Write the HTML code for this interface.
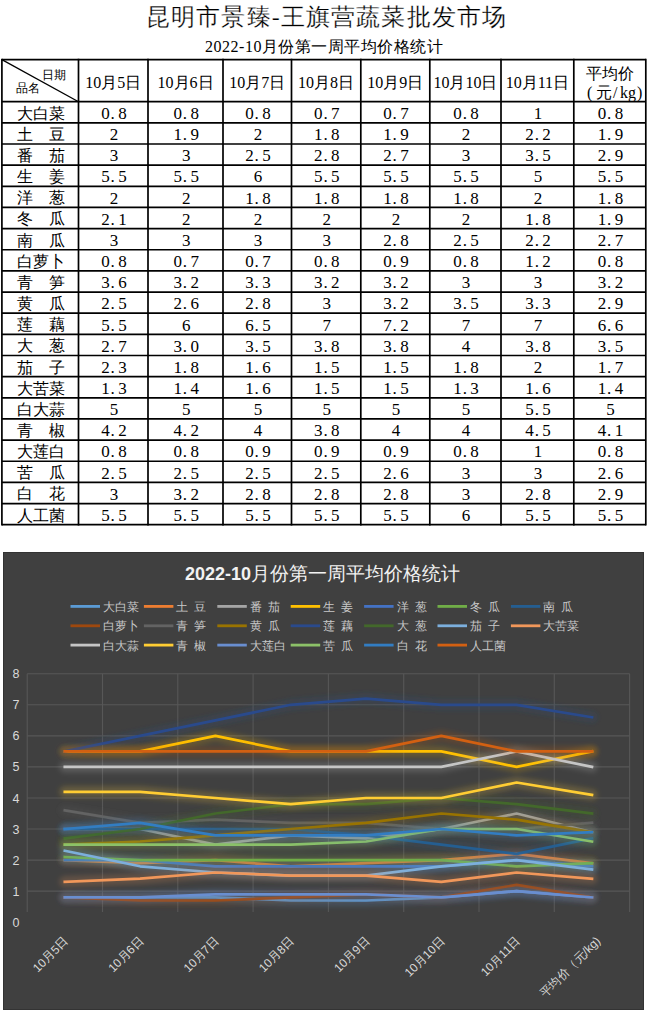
<!DOCTYPE html>
<html><head><meta charset="utf-8">
<style>
html,body{margin:0;padding:0;background:#fff;width:650px;height:1014px;overflow:hidden}
svg{display:block}
.s{font-family:"Liberation Serif",serif}
.a{font-family:"Liberation Sans",sans-serif}
</style></head><body>
<svg width="650" height="1014" viewBox="0 0 650 1014">
<defs>
<filter id="gl" filterUnits="userSpaceOnUse" x="0" y="540" width="650" height="474"><feGaussianBlur stdDeviation="2.6"/></filter>
</defs>

<text class="s" x="146" y="25" font-size="24" textLength="360" lengthAdjust="spacing" fill="#000" stroke="#fff" stroke-width="0.25">昆明市景臻-王旗营蔬菜批发市场</text>
<text class="s" x="205" y="52" font-size="16" textLength="238" lengthAdjust="spacing" fill="#000">2022-10月份第一周平均价格统计</text>
<g stroke="#000" stroke-width="1.7" fill="none">
<line x1="1.9" y1="58.75" x2="1.9" y2="525.5500000000001"/>
<line x1="78.5" y1="58.75" x2="78.5" y2="525.5500000000001"/>
<line x1="148" y1="58.75" x2="148" y2="525.5500000000001"/>
<line x1="223" y1="58.75" x2="223" y2="525.5500000000001"/>
<line x1="291.5" y1="58.75" x2="291.5" y2="525.5500000000001"/>
<line x1="360.8" y1="58.75" x2="360.8" y2="525.5500000000001"/>
<line x1="429.8" y1="58.75" x2="429.8" y2="525.5500000000001"/>
<line x1="501" y1="58.75" x2="501" y2="525.5500000000001"/>
<line x1="573.8" y1="58.75" x2="573.8" y2="525.5500000000001"/>
<line x1="645.8" y1="58.75" x2="645.8" y2="525.5500000000001"/>
<line x1="1.9" y1="59.6" x2="645.8" y2="59.6"/>
<line x1="1.9" y1="101.70" x2="645.8" y2="101.70"/>
<line x1="1.9" y1="122.85" x2="645.8" y2="122.85"/>
<line x1="1.9" y1="144.00" x2="645.8" y2="144.00"/>
<line x1="1.9" y1="165.15" x2="645.8" y2="165.15"/>
<line x1="1.9" y1="186.30" x2="645.8" y2="186.30"/>
<line x1="1.9" y1="207.45" x2="645.8" y2="207.45"/>
<line x1="1.9" y1="228.60" x2="645.8" y2="228.60"/>
<line x1="1.9" y1="249.75" x2="645.8" y2="249.75"/>
<line x1="1.9" y1="270.90" x2="645.8" y2="270.90"/>
<line x1="1.9" y1="292.05" x2="645.8" y2="292.05"/>
<line x1="1.9" y1="313.20" x2="645.8" y2="313.20"/>
<line x1="1.9" y1="334.35" x2="645.8" y2="334.35"/>
<line x1="1.9" y1="355.50" x2="645.8" y2="355.50"/>
<line x1="1.9" y1="376.65" x2="645.8" y2="376.65"/>
<line x1="1.9" y1="397.80" x2="645.8" y2="397.80"/>
<line x1="1.9" y1="418.95" x2="645.8" y2="418.95"/>
<line x1="1.9" y1="440.10" x2="645.8" y2="440.10"/>
<line x1="1.9" y1="461.25" x2="645.8" y2="461.25"/>
<line x1="1.9" y1="482.40" x2="645.8" y2="482.40"/>
<line x1="1.9" y1="503.55" x2="645.8" y2="503.55"/>
<line x1="1.9" y1="524.70" x2="645.8" y2="524.70"/>
<line x1="1.9" y1="59.6" x2="78.5" y2="101.7" stroke-width="1.3"/>
</g>
<g class="s" fill="#000">
<text x="54" y="79" font-size="12" text-anchor="middle">日期</text>
<text x="28" y="92" font-size="12" text-anchor="middle">品名</text>
<text x="113.2" y="88" font-size="16" text-anchor="middle">10月5日</text>
<text x="185.5" y="88" font-size="16" text-anchor="middle">10月6日</text>
<text x="257.2" y="88" font-size="16" text-anchor="middle">10月7日</text>
<text x="326.1" y="88" font-size="16" text-anchor="middle">10月8日</text>
<text x="395.3" y="88" font-size="16" text-anchor="middle">10月9日</text>
<text x="465.4" y="88" font-size="16" text-anchor="middle">10月10日</text>
<text x="537.4" y="88" font-size="16" text-anchor="middle">10月11日</text>
<text x="609.8" y="78.5" font-size="16" text-anchor="middle">平均价</text>
<text y="98" font-size="16"><tspan x="587">(</tspan><tspan x="596">元</tspan><tspan x="613">/</tspan><tspan x="620">kg</tspan><tspan x="637">)</tspan></text>
</g>
<g class="s" fill="#000" font-size="16">
<text x="41" y="118.70" text-anchor="middle">大白菜</text>
<text x="105.5 112.7 122.5" y="119.00" font-size="17" text-anchor="middle">0.8</text>
<text x="177.7 184.9 194.7" y="119.00" font-size="17" text-anchor="middle">0.8</text>
<text x="249.4 256.6 266.4" y="119.00" font-size="17" text-anchor="middle">0.8</text>
<text x="318.3 325.5 335.3" y="119.00" font-size="17" text-anchor="middle">0.7</text>
<text x="387.5 394.7 404.5" y="119.00" font-size="17" text-anchor="middle">0.7</text>
<text x="457.6 464.8 474.6" y="119.00" font-size="17" text-anchor="middle">0.8</text>
<text x="538.1" y="119.00" font-size="17" text-anchor="middle">1</text>
<text x="602.0 609.2 619.0" y="119.00" font-size="17" text-anchor="middle">0.8</text>
<text x="41" y="139.85" text-anchor="middle">土　豆</text>
<text x="114.0" y="140.15" font-size="17" text-anchor="middle">2</text>
<text x="177.7 184.9 194.7" y="140.15" font-size="17" text-anchor="middle">1.9</text>
<text x="257.9" y="140.15" font-size="17" text-anchor="middle">2</text>
<text x="318.3 325.5 335.3" y="140.15" font-size="17" text-anchor="middle">1.8</text>
<text x="387.5 394.7 404.5" y="140.15" font-size="17" text-anchor="middle">1.9</text>
<text x="466.1" y="140.15" font-size="17" text-anchor="middle">2</text>
<text x="529.6 536.8 546.6" y="140.15" font-size="17" text-anchor="middle">2.2</text>
<text x="602.0 609.2 619.0" y="140.15" font-size="17" text-anchor="middle">1.9</text>
<text x="41" y="161.00" text-anchor="middle">番　茄</text>
<text x="114.0" y="161.30" font-size="17" text-anchor="middle">3</text>
<text x="186.2" y="161.30" font-size="17" text-anchor="middle">3</text>
<text x="249.4 256.6 266.4" y="161.30" font-size="17" text-anchor="middle">2.5</text>
<text x="318.3 325.5 335.3" y="161.30" font-size="17" text-anchor="middle">2.8</text>
<text x="387.5 394.7 404.5" y="161.30" font-size="17" text-anchor="middle">2.7</text>
<text x="466.1" y="161.30" font-size="17" text-anchor="middle">3</text>
<text x="529.6 536.8 546.6" y="161.30" font-size="17" text-anchor="middle">3.5</text>
<text x="602.0 609.2 619.0" y="161.30" font-size="17" text-anchor="middle">2.9</text>
<text x="41" y="182.15" text-anchor="middle">生　姜</text>
<text x="105.5 112.7 122.5" y="182.45" font-size="17" text-anchor="middle">5.5</text>
<text x="177.7 184.9 194.7" y="182.45" font-size="17" text-anchor="middle">5.5</text>
<text x="257.9" y="182.45" font-size="17" text-anchor="middle">6</text>
<text x="318.3 325.5 335.3" y="182.45" font-size="17" text-anchor="middle">5.5</text>
<text x="387.5 394.7 404.5" y="182.45" font-size="17" text-anchor="middle">5.5</text>
<text x="457.6 464.8 474.6" y="182.45" font-size="17" text-anchor="middle">5.5</text>
<text x="538.1" y="182.45" font-size="17" text-anchor="middle">5</text>
<text x="602.0 609.2 619.0" y="182.45" font-size="17" text-anchor="middle">5.5</text>
<text x="41" y="203.30" text-anchor="middle">洋　葱</text>
<text x="114.0" y="203.60" font-size="17" text-anchor="middle">2</text>
<text x="186.2" y="203.60" font-size="17" text-anchor="middle">2</text>
<text x="249.4 256.6 266.4" y="203.60" font-size="17" text-anchor="middle">1.8</text>
<text x="318.3 325.5 335.3" y="203.60" font-size="17" text-anchor="middle">1.8</text>
<text x="387.5 394.7 404.5" y="203.60" font-size="17" text-anchor="middle">1.8</text>
<text x="457.6 464.8 474.6" y="203.60" font-size="17" text-anchor="middle">1.8</text>
<text x="538.1" y="203.60" font-size="17" text-anchor="middle">2</text>
<text x="602.0 609.2 619.0" y="203.60" font-size="17" text-anchor="middle">1.8</text>
<text x="41" y="224.45" text-anchor="middle">冬　瓜</text>
<text x="105.5 112.7 122.5" y="224.75" font-size="17" text-anchor="middle">2.1</text>
<text x="186.2" y="224.75" font-size="17" text-anchor="middle">2</text>
<text x="257.9" y="224.75" font-size="17" text-anchor="middle">2</text>
<text x="326.8" y="224.75" font-size="17" text-anchor="middle">2</text>
<text x="396.0" y="224.75" font-size="17" text-anchor="middle">2</text>
<text x="466.1" y="224.75" font-size="17" text-anchor="middle">2</text>
<text x="529.6 536.8 546.6" y="224.75" font-size="17" text-anchor="middle">1.8</text>
<text x="602.0 609.2 619.0" y="224.75" font-size="17" text-anchor="middle">1.9</text>
<text x="41" y="245.60" text-anchor="middle">南　瓜</text>
<text x="114.0" y="245.90" font-size="17" text-anchor="middle">3</text>
<text x="186.2" y="245.90" font-size="17" text-anchor="middle">3</text>
<text x="257.9" y="245.90" font-size="17" text-anchor="middle">3</text>
<text x="326.8" y="245.90" font-size="17" text-anchor="middle">3</text>
<text x="387.5 394.7 404.5" y="245.90" font-size="17" text-anchor="middle">2.8</text>
<text x="457.6 464.8 474.6" y="245.90" font-size="17" text-anchor="middle">2.5</text>
<text x="529.6 536.8 546.6" y="245.90" font-size="17" text-anchor="middle">2.2</text>
<text x="602.0 609.2 619.0" y="245.90" font-size="17" text-anchor="middle">2.7</text>
<text x="41" y="266.75" text-anchor="middle">白萝卜</text>
<text x="105.5 112.7 122.5" y="267.05" font-size="17" text-anchor="middle">0.8</text>
<text x="177.7 184.9 194.7" y="267.05" font-size="17" text-anchor="middle">0.7</text>
<text x="249.4 256.6 266.4" y="267.05" font-size="17" text-anchor="middle">0.7</text>
<text x="318.3 325.5 335.3" y="267.05" font-size="17" text-anchor="middle">0.8</text>
<text x="387.5 394.7 404.5" y="267.05" font-size="17" text-anchor="middle">0.9</text>
<text x="457.6 464.8 474.6" y="267.05" font-size="17" text-anchor="middle">0.8</text>
<text x="529.6 536.8 546.6" y="267.05" font-size="17" text-anchor="middle">1.2</text>
<text x="602.0 609.2 619.0" y="267.05" font-size="17" text-anchor="middle">0.8</text>
<text x="41" y="287.90" text-anchor="middle">青　笋</text>
<text x="105.5 112.7 122.5" y="288.20" font-size="17" text-anchor="middle">3.6</text>
<text x="177.7 184.9 194.7" y="288.20" font-size="17" text-anchor="middle">3.2</text>
<text x="249.4 256.6 266.4" y="288.20" font-size="17" text-anchor="middle">3.3</text>
<text x="318.3 325.5 335.3" y="288.20" font-size="17" text-anchor="middle">3.2</text>
<text x="387.5 394.7 404.5" y="288.20" font-size="17" text-anchor="middle">3.2</text>
<text x="466.1" y="288.20" font-size="17" text-anchor="middle">3</text>
<text x="538.1" y="288.20" font-size="17" text-anchor="middle">3</text>
<text x="602.0 609.2 619.0" y="288.20" font-size="17" text-anchor="middle">3.2</text>
<text x="41" y="309.05" text-anchor="middle">黄　瓜</text>
<text x="105.5 112.7 122.5" y="309.35" font-size="17" text-anchor="middle">2.5</text>
<text x="177.7 184.9 194.7" y="309.35" font-size="17" text-anchor="middle">2.6</text>
<text x="249.4 256.6 266.4" y="309.35" font-size="17" text-anchor="middle">2.8</text>
<text x="326.8" y="309.35" font-size="17" text-anchor="middle">3</text>
<text x="387.5 394.7 404.5" y="309.35" font-size="17" text-anchor="middle">3.2</text>
<text x="457.6 464.8 474.6" y="309.35" font-size="17" text-anchor="middle">3.5</text>
<text x="529.6 536.8 546.6" y="309.35" font-size="17" text-anchor="middle">3.3</text>
<text x="602.0 609.2 619.0" y="309.35" font-size="17" text-anchor="middle">2.9</text>
<text x="41" y="330.20" text-anchor="middle">莲　藕</text>
<text x="105.5 112.7 122.5" y="330.50" font-size="17" text-anchor="middle">5.5</text>
<text x="186.2" y="330.50" font-size="17" text-anchor="middle">6</text>
<text x="249.4 256.6 266.4" y="330.50" font-size="17" text-anchor="middle">6.5</text>
<text x="326.8" y="330.50" font-size="17" text-anchor="middle">7</text>
<text x="387.5 394.7 404.5" y="330.50" font-size="17" text-anchor="middle">7.2</text>
<text x="466.1" y="330.50" font-size="17" text-anchor="middle">7</text>
<text x="538.1" y="330.50" font-size="17" text-anchor="middle">7</text>
<text x="602.0 609.2 619.0" y="330.50" font-size="17" text-anchor="middle">6.6</text>
<text x="41" y="351.35" text-anchor="middle">大　葱</text>
<text x="105.5 112.7 122.5" y="351.65" font-size="17" text-anchor="middle">2.7</text>
<text x="177.7 184.9 194.7" y="351.65" font-size="17" text-anchor="middle">3.0</text>
<text x="249.4 256.6 266.4" y="351.65" font-size="17" text-anchor="middle">3.5</text>
<text x="318.3 325.5 335.3" y="351.65" font-size="17" text-anchor="middle">3.8</text>
<text x="387.5 394.7 404.5" y="351.65" font-size="17" text-anchor="middle">3.8</text>
<text x="466.1" y="351.65" font-size="17" text-anchor="middle">4</text>
<text x="529.6 536.8 546.6" y="351.65" font-size="17" text-anchor="middle">3.8</text>
<text x="602.0 609.2 619.0" y="351.65" font-size="17" text-anchor="middle">3.5</text>
<text x="41" y="372.50" text-anchor="middle">茄　子</text>
<text x="105.5 112.7 122.5" y="372.80" font-size="17" text-anchor="middle">2.3</text>
<text x="177.7 184.9 194.7" y="372.80" font-size="17" text-anchor="middle">1.8</text>
<text x="249.4 256.6 266.4" y="372.80" font-size="17" text-anchor="middle">1.6</text>
<text x="318.3 325.5 335.3" y="372.80" font-size="17" text-anchor="middle">1.5</text>
<text x="387.5 394.7 404.5" y="372.80" font-size="17" text-anchor="middle">1.5</text>
<text x="457.6 464.8 474.6" y="372.80" font-size="17" text-anchor="middle">1.8</text>
<text x="538.1" y="372.80" font-size="17" text-anchor="middle">2</text>
<text x="602.0 609.2 619.0" y="372.80" font-size="17" text-anchor="middle">1.7</text>
<text x="41" y="393.65" text-anchor="middle">大苦菜</text>
<text x="105.5 112.7 122.5" y="393.95" font-size="17" text-anchor="middle">1.3</text>
<text x="177.7 184.9 194.7" y="393.95" font-size="17" text-anchor="middle">1.4</text>
<text x="249.4 256.6 266.4" y="393.95" font-size="17" text-anchor="middle">1.6</text>
<text x="318.3 325.5 335.3" y="393.95" font-size="17" text-anchor="middle">1.5</text>
<text x="387.5 394.7 404.5" y="393.95" font-size="17" text-anchor="middle">1.5</text>
<text x="457.6 464.8 474.6" y="393.95" font-size="17" text-anchor="middle">1.3</text>
<text x="529.6 536.8 546.6" y="393.95" font-size="17" text-anchor="middle">1.6</text>
<text x="602.0 609.2 619.0" y="393.95" font-size="17" text-anchor="middle">1.4</text>
<text x="41" y="414.80" text-anchor="middle">白大蒜</text>
<text x="114.0" y="415.10" font-size="17" text-anchor="middle">5</text>
<text x="186.2" y="415.10" font-size="17" text-anchor="middle">5</text>
<text x="257.9" y="415.10" font-size="17" text-anchor="middle">5</text>
<text x="326.8" y="415.10" font-size="17" text-anchor="middle">5</text>
<text x="396.0" y="415.10" font-size="17" text-anchor="middle">5</text>
<text x="466.1" y="415.10" font-size="17" text-anchor="middle">5</text>
<text x="529.6 536.8 546.6" y="415.10" font-size="17" text-anchor="middle">5.5</text>
<text x="610.5" y="415.10" font-size="17" text-anchor="middle">5</text>
<text x="41" y="435.95" text-anchor="middle">青　椒</text>
<text x="105.5 112.7 122.5" y="436.25" font-size="17" text-anchor="middle">4.2</text>
<text x="177.7 184.9 194.7" y="436.25" font-size="17" text-anchor="middle">4.2</text>
<text x="257.9" y="436.25" font-size="17" text-anchor="middle">4</text>
<text x="318.3 325.5 335.3" y="436.25" font-size="17" text-anchor="middle">3.8</text>
<text x="396.0" y="436.25" font-size="17" text-anchor="middle">4</text>
<text x="466.1" y="436.25" font-size="17" text-anchor="middle">4</text>
<text x="529.6 536.8 546.6" y="436.25" font-size="17" text-anchor="middle">4.5</text>
<text x="602.0 609.2 619.0" y="436.25" font-size="17" text-anchor="middle">4.1</text>
<text x="41" y="457.10" text-anchor="middle">大莲白</text>
<text x="105.5 112.7 122.5" y="457.40" font-size="17" text-anchor="middle">0.8</text>
<text x="177.7 184.9 194.7" y="457.40" font-size="17" text-anchor="middle">0.8</text>
<text x="249.4 256.6 266.4" y="457.40" font-size="17" text-anchor="middle">0.9</text>
<text x="318.3 325.5 335.3" y="457.40" font-size="17" text-anchor="middle">0.9</text>
<text x="387.5 394.7 404.5" y="457.40" font-size="17" text-anchor="middle">0.9</text>
<text x="457.6 464.8 474.6" y="457.40" font-size="17" text-anchor="middle">0.8</text>
<text x="538.1" y="457.40" font-size="17" text-anchor="middle">1</text>
<text x="602.0 609.2 619.0" y="457.40" font-size="17" text-anchor="middle">0.8</text>
<text x="41" y="478.25" text-anchor="middle">苦　瓜</text>
<text x="105.5 112.7 122.5" y="478.55" font-size="17" text-anchor="middle">2.5</text>
<text x="177.7 184.9 194.7" y="478.55" font-size="17" text-anchor="middle">2.5</text>
<text x="249.4 256.6 266.4" y="478.55" font-size="17" text-anchor="middle">2.5</text>
<text x="318.3 325.5 335.3" y="478.55" font-size="17" text-anchor="middle">2.5</text>
<text x="387.5 394.7 404.5" y="478.55" font-size="17" text-anchor="middle">2.6</text>
<text x="466.1" y="478.55" font-size="17" text-anchor="middle">3</text>
<text x="538.1" y="478.55" font-size="17" text-anchor="middle">3</text>
<text x="602.0 609.2 619.0" y="478.55" font-size="17" text-anchor="middle">2.6</text>
<text x="41" y="499.40" text-anchor="middle">白　花</text>
<text x="114.0" y="499.70" font-size="17" text-anchor="middle">3</text>
<text x="177.7 184.9 194.7" y="499.70" font-size="17" text-anchor="middle">3.2</text>
<text x="249.4 256.6 266.4" y="499.70" font-size="17" text-anchor="middle">2.8</text>
<text x="318.3 325.5 335.3" y="499.70" font-size="17" text-anchor="middle">2.8</text>
<text x="387.5 394.7 404.5" y="499.70" font-size="17" text-anchor="middle">2.8</text>
<text x="466.1" y="499.70" font-size="17" text-anchor="middle">3</text>
<text x="529.6 536.8 546.6" y="499.70" font-size="17" text-anchor="middle">2.8</text>
<text x="602.0 609.2 619.0" y="499.70" font-size="17" text-anchor="middle">2.9</text>
<text x="41" y="520.55" text-anchor="middle">人工菌</text>
<text x="105.5 112.7 122.5" y="520.85" font-size="17" text-anchor="middle">5.5</text>
<text x="177.7 184.9 194.7" y="520.85" font-size="17" text-anchor="middle">5.5</text>
<text x="249.4 256.6 266.4" y="520.85" font-size="17" text-anchor="middle">5.5</text>
<text x="318.3 325.5 335.3" y="520.85" font-size="17" text-anchor="middle">5.5</text>
<text x="387.5 394.7 404.5" y="520.85" font-size="17" text-anchor="middle">5.5</text>
<text x="466.1" y="520.85" font-size="17" text-anchor="middle">6</text>
<text x="529.6 536.8 546.6" y="520.85" font-size="17" text-anchor="middle">5.5</text>
<text x="602.0 609.2 619.0" y="520.85" font-size="17" text-anchor="middle">5.5</text>
</g>
<rect x="3.5" y="552.5" width="640" height="457" fill="#404040" stroke="#333" stroke-width="1"/>
<text class="a" x="185" y="580" fill="#f2f2f2"><tspan font-weight="bold" font-size="18">2022-10</tspan><tspan font-size="19" x="251">月份第一周平均价格统计</tspan></text>
<line x1="70.5" y1="606.4" x2="100.0" y2="606.4" stroke="#5B9BD5" stroke-width="2.8"/>
<text class="a" x="103.0" y="611.0" font-size="12" fill="#c8c8c8">大白菜</text>
<line x1="143.9" y1="606.4" x2="173.4" y2="606.4" stroke="#ED7D31" stroke-width="2.8"/>
<text class="a" x="176.4" y="611.0" font-size="12" fill="#c8c8c8">土&#8194;豆</text>
<line x1="217.3" y1="606.4" x2="246.8" y2="606.4" stroke="#A5A5A5" stroke-width="2.8"/>
<text class="a" x="249.8" y="611.0" font-size="12" fill="#c8c8c8">番&#8194;茄</text>
<line x1="290.7" y1="606.4" x2="320.2" y2="606.4" stroke="#FFC000" stroke-width="2.8"/>
<text class="a" x="323.2" y="611.0" font-size="12" fill="#c8c8c8">生&#8194;姜</text>
<line x1="364.1" y1="606.4" x2="393.6" y2="606.4" stroke="#4472C4" stroke-width="2.8"/>
<text class="a" x="396.6" y="611.0" font-size="12" fill="#c8c8c8">洋&#8194;葱</text>
<line x1="437.5" y1="606.4" x2="467.0" y2="606.4" stroke="#70AD47" stroke-width="2.8"/>
<text class="a" x="470.0" y="611.0" font-size="12" fill="#c8c8c8">冬&#8194;瓜</text>
<line x1="510.9" y1="606.4" x2="540.4" y2="606.4" stroke="#255E91" stroke-width="2.8"/>
<text class="a" x="543.4" y="611.0" font-size="12" fill="#c8c8c8">南&#8194;瓜</text>
<line x1="70.5" y1="625.8" x2="100.0" y2="625.8" stroke="#9E480E" stroke-width="2.8"/>
<text class="a" x="103.0" y="630.4" font-size="12" fill="#c8c8c8">白萝卜</text>
<line x1="143.9" y1="625.8" x2="173.4" y2="625.8" stroke="#636363" stroke-width="2.8"/>
<text class="a" x="176.4" y="630.4" font-size="12" fill="#c8c8c8">青&#8194;笋</text>
<line x1="217.3" y1="625.8" x2="246.8" y2="625.8" stroke="#997300" stroke-width="2.8"/>
<text class="a" x="249.8" y="630.4" font-size="12" fill="#c8c8c8">黄&#8194;瓜</text>
<line x1="290.7" y1="625.8" x2="320.2" y2="625.8" stroke="#2A4A8C" stroke-width="2.8"/>
<text class="a" x="323.2" y="630.4" font-size="12" fill="#c8c8c8">莲&#8194;藕</text>
<line x1="364.1" y1="625.8" x2="393.6" y2="625.8" stroke="#43682B" stroke-width="2.8"/>
<text class="a" x="396.6" y="630.4" font-size="12" fill="#c8c8c8">大&#8194;葱</text>
<line x1="437.5" y1="625.8" x2="467.0" y2="625.8" stroke="#7CAFDD" stroke-width="2.8"/>
<text class="a" x="470.0" y="630.4" font-size="12" fill="#c8c8c8">茄&#8194;子</text>
<line x1="510.9" y1="625.8" x2="540.4" y2="625.8" stroke="#F1975A" stroke-width="2.8"/>
<text class="a" x="543.4" y="630.4" font-size="12" fill="#c8c8c8">大苦菜</text>
<line x1="70.5" y1="645.1" x2="100.0" y2="645.1" stroke="#C5C5C5" stroke-width="2.8"/>
<text class="a" x="103.0" y="649.7" font-size="12" fill="#c8c8c8">白大蒜</text>
<line x1="143.9" y1="645.1" x2="173.4" y2="645.1" stroke="#FFCD33" stroke-width="2.8"/>
<text class="a" x="176.4" y="649.7" font-size="12" fill="#c8c8c8">青&#8194;椒</text>
<line x1="217.3" y1="645.1" x2="246.8" y2="645.1" stroke="#698ED0" stroke-width="2.8"/>
<text class="a" x="249.8" y="649.7" font-size="12" fill="#c8c8c8">大莲白</text>
<line x1="290.7" y1="645.1" x2="320.2" y2="645.1" stroke="#8CC168" stroke-width="2.8"/>
<text class="a" x="323.2" y="649.7" font-size="12" fill="#c8c8c8">苦&#8194;瓜</text>
<line x1="364.1" y1="645.1" x2="393.6" y2="645.1" stroke="#327DC2" stroke-width="2.8"/>
<text class="a" x="396.6" y="649.7" font-size="12" fill="#c8c8c8">白&#8194;花</text>
<line x1="437.5" y1="645.1" x2="467.0" y2="645.1" stroke="#D26012" stroke-width="2.8"/>
<text class="a" x="470.0" y="649.7" font-size="12" fill="#c8c8c8">人工菌</text>
<g stroke="#575757" stroke-width="1.1" fill="none">
<line x1="27.2" y1="673.8" x2="27.2" y2="912"/>
<line x1="102.5" y1="673.8" x2="102.5" y2="912"/>
<line x1="177.8" y1="673.8" x2="177.8" y2="912"/>
<line x1="253.1" y1="673.8" x2="253.1" y2="912"/>
<line x1="328.4" y1="673.8" x2="328.4" y2="912"/>
<line x1="403.7" y1="673.8" x2="403.7" y2="912"/>
<line x1="479.0" y1="673.8" x2="479.0" y2="912"/>
<line x1="554.3" y1="673.8" x2="554.3" y2="912"/>
<line x1="629.6" y1="673.8" x2="629.6" y2="912"/>
<line x1="27.2" y1="673.8" x2="629.6" y2="673.8"/>
<line x1="27.2" y1="704.8" x2="629.6" y2="704.8"/>
<line x1="27.2" y1="735.9" x2="629.6" y2="735.9"/>
<line x1="27.2" y1="766.9" x2="629.6" y2="766.9"/>
<line x1="27.2" y1="798.0" x2="629.6" y2="798.0"/>
<line x1="27.2" y1="829.0" x2="629.6" y2="829.0"/>
<line x1="27.2" y1="860.1" x2="629.6" y2="860.1"/>
<line x1="27.2" y1="891.1" x2="629.6" y2="891.1"/>
</g>
<text class="a" x="16" y="926.7" font-size="12.5" text-anchor="middle" fill="#d9d9d9">0</text>
<text class="a" x="16" y="895.6" font-size="12.5" text-anchor="middle" fill="#d9d9d9">1</text>
<text class="a" x="16" y="864.6" font-size="12.5" text-anchor="middle" fill="#d9d9d9">2</text>
<text class="a" x="16" y="833.5" font-size="12.5" text-anchor="middle" fill="#d9d9d9">3</text>
<text class="a" x="16" y="802.5" font-size="12.5" text-anchor="middle" fill="#d9d9d9">4</text>
<text class="a" x="16" y="771.4" font-size="12.5" text-anchor="middle" fill="#d9d9d9">5</text>
<text class="a" x="16" y="740.4" font-size="12.5" text-anchor="middle" fill="#d9d9d9">6</text>
<text class="a" x="16" y="709.3" font-size="12.5" text-anchor="middle" fill="#d9d9d9">7</text>
<text class="a" x="16" y="678.3" font-size="12.5" text-anchor="middle" fill="#d9d9d9">8</text>
<text class="a" x="66.0" y="943.0" font-size="12" text-anchor="end" fill="#d9d9d9" transform="rotate(-45 66.0 938.8)">10月5日</text>
<text class="a" x="141.3" y="943.0" font-size="12" text-anchor="end" fill="#d9d9d9" transform="rotate(-45 141.3 938.8)">10月6日</text>
<text class="a" x="216.6" y="943.0" font-size="12" text-anchor="end" fill="#d9d9d9" transform="rotate(-45 216.6 938.8)">10月7日</text>
<text class="a" x="291.9" y="943.0" font-size="12" text-anchor="end" fill="#d9d9d9" transform="rotate(-45 291.9 938.8)">10月8日</text>
<text class="a" x="367.2" y="943.0" font-size="12" text-anchor="end" fill="#d9d9d9" transform="rotate(-45 367.2 938.8)">10月9日</text>
<text class="a" x="442.5" y="943.0" font-size="12" text-anchor="end" fill="#d9d9d9" transform="rotate(-45 442.5 938.8)">10月10日</text>
<text class="a" x="517.9" y="943.0" font-size="12" text-anchor="end" fill="#d9d9d9" transform="rotate(-45 517.9 938.8)">10月11日</text>
<text class="a" x="598.2" y="943.0" font-size="12" text-anchor="end" fill="#d9d9d9" transform="rotate(-45 598.2 938.8)">平均价（元/kg)</text>
<polyline points="64.8,897.4 140.1,897.4 215.4,897.4 290.8,900.5 366.0,900.5 441.3,897.4 516.6,891.1 592.0,897.4" fill="none" stroke="#5B9BD5" stroke-opacity="0.2" stroke-width="11" stroke-linecap="round" stroke-linejoin="round" filter="url(#gl)"/>
<polyline points="64.8,897.4 140.1,897.4 215.4,897.4 290.8,900.5 366.0,900.5 441.3,897.4 516.6,891.1 592.0,897.4" fill="none" stroke="#5B9BD5" stroke-width="2.7" stroke-linecap="square" stroke-linejoin="round"/>
<polyline points="64.8,860.1 140.1,863.2 215.4,860.1 290.8,866.3 366.0,863.2 441.3,860.1 516.6,853.9 592.0,863.2" fill="none" stroke="#ED7D31" stroke-opacity="0.2" stroke-width="11" stroke-linecap="round" stroke-linejoin="round" filter="url(#gl)"/>
<polyline points="64.8,860.1 140.1,863.2 215.4,860.1 290.8,866.3 366.0,863.2 441.3,860.1 516.6,853.9 592.0,863.2" fill="none" stroke="#ED7D31" stroke-width="2.7" stroke-linecap="square" stroke-linejoin="round"/>
<polyline points="64.8,829.0 140.1,829.0 215.4,844.6 290.8,835.3 366.0,838.4 441.3,829.0 516.6,813.5 592.0,832.2" fill="none" stroke="#A5A5A5" stroke-opacity="0.2" stroke-width="11" stroke-linecap="round" stroke-linejoin="round" filter="url(#gl)"/>
<polyline points="64.8,829.0 140.1,829.0 215.4,844.6 290.8,835.3 366.0,838.4 441.3,829.0 516.6,813.5 592.0,832.2" fill="none" stroke="#A5A5A5" stroke-width="2.7" stroke-linecap="square" stroke-linejoin="round"/>
<polyline points="64.8,751.4 140.1,751.4 215.4,735.9 290.8,751.4 366.0,751.4 441.3,751.4 516.6,766.9 592.0,751.4" fill="none" stroke="#FFC000" stroke-opacity="0.2" stroke-width="11" stroke-linecap="round" stroke-linejoin="round" filter="url(#gl)"/>
<polyline points="64.8,751.4 140.1,751.4 215.4,735.9 290.8,751.4 366.0,751.4 441.3,751.4 516.6,766.9 592.0,751.4" fill="none" stroke="#FFC000" stroke-width="2.7" stroke-linecap="square" stroke-linejoin="round"/>
<polyline points="64.8,860.1 140.1,860.1 215.4,866.3 290.8,866.3 366.0,866.3 441.3,866.3 516.6,860.1 592.0,866.3" fill="none" stroke="#4472C4" stroke-opacity="0.2" stroke-width="11" stroke-linecap="round" stroke-linejoin="round" filter="url(#gl)"/>
<polyline points="64.8,860.1 140.1,860.1 215.4,866.3 290.8,866.3 366.0,866.3 441.3,866.3 516.6,860.1 592.0,866.3" fill="none" stroke="#4472C4" stroke-width="2.7" stroke-linecap="square" stroke-linejoin="round"/>
<polyline points="64.8,857.0 140.1,860.1 215.4,860.1 290.8,860.1 366.0,860.1 441.3,860.1 516.6,866.3 592.0,863.2" fill="none" stroke="#70AD47" stroke-opacity="0.2" stroke-width="11" stroke-linecap="round" stroke-linejoin="round" filter="url(#gl)"/>
<polyline points="64.8,857.0 140.1,860.1 215.4,860.1 290.8,860.1 366.0,860.1 441.3,860.1 516.6,866.3 592.0,863.2" fill="none" stroke="#70AD47" stroke-width="2.7" stroke-linecap="square" stroke-linejoin="round"/>
<polyline points="64.8,829.0 140.1,829.0 215.4,829.0 290.8,829.0 366.0,835.3 441.3,844.6 516.6,853.9 592.0,838.4" fill="none" stroke="#255E91" stroke-opacity="0.2" stroke-width="11" stroke-linecap="round" stroke-linejoin="round" filter="url(#gl)"/>
<polyline points="64.8,829.0 140.1,829.0 215.4,829.0 290.8,829.0 366.0,835.3 441.3,844.6 516.6,853.9 592.0,838.4" fill="none" stroke="#255E91" stroke-width="2.7" stroke-linecap="square" stroke-linejoin="round"/>
<polyline points="64.8,897.4 140.1,900.5 215.4,900.5 290.8,897.4 366.0,894.3 441.3,897.4 516.6,884.9 592.0,897.4" fill="none" stroke="#9E480E" stroke-opacity="0.2" stroke-width="11" stroke-linecap="round" stroke-linejoin="round" filter="url(#gl)"/>
<polyline points="64.8,897.4 140.1,900.5 215.4,900.5 290.8,897.4 366.0,894.3 441.3,897.4 516.6,884.9 592.0,897.4" fill="none" stroke="#9E480E" stroke-width="2.7" stroke-linecap="square" stroke-linejoin="round"/>
<polyline points="64.8,810.4 140.1,822.8 215.4,819.7 290.8,822.8 366.0,822.8 441.3,829.0 516.6,829.0 592.0,822.8" fill="none" stroke="#636363" stroke-opacity="0.2" stroke-width="11" stroke-linecap="round" stroke-linejoin="round" filter="url(#gl)"/>
<polyline points="64.8,810.4 140.1,822.8 215.4,819.7 290.8,822.8 366.0,822.8 441.3,829.0 516.6,829.0 592.0,822.8" fill="none" stroke="#636363" stroke-width="2.7" stroke-linecap="square" stroke-linejoin="round"/>
<polyline points="64.8,844.6 140.1,841.5 215.4,835.3 290.8,829.0 366.0,822.8 441.3,813.5 516.6,819.7 592.0,832.2" fill="none" stroke="#997300" stroke-opacity="0.2" stroke-width="11" stroke-linecap="round" stroke-linejoin="round" filter="url(#gl)"/>
<polyline points="64.8,844.6 140.1,841.5 215.4,835.3 290.8,829.0 366.0,822.8 441.3,813.5 516.6,819.7 592.0,832.2" fill="none" stroke="#997300" stroke-width="2.7" stroke-linecap="square" stroke-linejoin="round"/>
<polyline points="64.8,751.4 140.1,735.9 215.4,720.4 290.8,704.8 366.0,698.6 441.3,704.8 516.6,704.8 592.0,717.3" fill="none" stroke="#2A4A8C" stroke-opacity="0.2" stroke-width="11" stroke-linecap="round" stroke-linejoin="round" filter="url(#gl)"/>
<polyline points="64.8,751.4 140.1,735.9 215.4,720.4 290.8,704.8 366.0,698.6 441.3,704.8 516.6,704.8 592.0,717.3" fill="none" stroke="#2A4A8C" stroke-width="2.7" stroke-linecap="square" stroke-linejoin="round"/>
<polyline points="64.8,838.4 140.1,829.0 215.4,813.5 290.8,804.2 366.0,804.2 441.3,798.0 516.6,804.2 592.0,813.5" fill="none" stroke="#43682B" stroke-opacity="0.2" stroke-width="11" stroke-linecap="round" stroke-linejoin="round" filter="url(#gl)"/>
<polyline points="64.8,838.4 140.1,829.0 215.4,813.5 290.8,804.2 366.0,804.2 441.3,798.0 516.6,804.2 592.0,813.5" fill="none" stroke="#43682B" stroke-width="2.7" stroke-linecap="square" stroke-linejoin="round"/>
<polyline points="64.8,850.8 140.1,866.3 215.4,872.5 290.8,875.6 366.0,875.6 441.3,866.3 516.6,860.1 592.0,869.4" fill="none" stroke="#7CAFDD" stroke-opacity="0.2" stroke-width="11" stroke-linecap="round" stroke-linejoin="round" filter="url(#gl)"/>
<polyline points="64.8,850.8 140.1,866.3 215.4,872.5 290.8,875.6 366.0,875.6 441.3,866.3 516.6,860.1 592.0,869.4" fill="none" stroke="#7CAFDD" stroke-width="2.7" stroke-linecap="square" stroke-linejoin="round"/>
<polyline points="64.8,881.8 140.1,878.7 215.4,872.5 290.8,875.6 366.0,875.6 441.3,881.8 516.6,872.5 592.0,878.7" fill="none" stroke="#F1975A" stroke-opacity="0.2" stroke-width="11" stroke-linecap="round" stroke-linejoin="round" filter="url(#gl)"/>
<polyline points="64.8,881.8 140.1,878.7 215.4,872.5 290.8,875.6 366.0,875.6 441.3,881.8 516.6,872.5 592.0,878.7" fill="none" stroke="#F1975A" stroke-width="2.7" stroke-linecap="square" stroke-linejoin="round"/>
<polyline points="64.8,766.9 140.1,766.9 215.4,766.9 290.8,766.9 366.0,766.9 441.3,766.9 516.6,751.4 592.0,766.9" fill="none" stroke="#C5C5C5" stroke-opacity="0.2" stroke-width="11" stroke-linecap="round" stroke-linejoin="round" filter="url(#gl)"/>
<polyline points="64.8,766.9 140.1,766.9 215.4,766.9 290.8,766.9 366.0,766.9 441.3,766.9 516.6,751.4 592.0,766.9" fill="none" stroke="#C5C5C5" stroke-width="2.7" stroke-linecap="square" stroke-linejoin="round"/>
<polyline points="64.8,791.8 140.1,791.8 215.4,798.0 290.8,804.2 366.0,798.0 441.3,798.0 516.6,782.5 592.0,794.9" fill="none" stroke="#FFCD33" stroke-opacity="0.2" stroke-width="11" stroke-linecap="round" stroke-linejoin="round" filter="url(#gl)"/>
<polyline points="64.8,791.8 140.1,791.8 215.4,798.0 290.8,804.2 366.0,798.0 441.3,798.0 516.6,782.5 592.0,794.9" fill="none" stroke="#FFCD33" stroke-width="2.7" stroke-linecap="square" stroke-linejoin="round"/>
<polyline points="64.8,897.4 140.1,897.4 215.4,894.3 290.8,894.3 366.0,894.3 441.3,897.4 516.6,891.1 592.0,897.4" fill="none" stroke="#698ED0" stroke-opacity="0.2" stroke-width="11" stroke-linecap="round" stroke-linejoin="round" filter="url(#gl)"/>
<polyline points="64.8,897.4 140.1,897.4 215.4,894.3 290.8,894.3 366.0,894.3 441.3,897.4 516.6,891.1 592.0,897.4" fill="none" stroke="#698ED0" stroke-width="2.7" stroke-linecap="square" stroke-linejoin="round"/>
<polyline points="64.8,844.6 140.1,844.6 215.4,844.6 290.8,844.6 366.0,841.5 441.3,829.0 516.6,829.0 592.0,841.5" fill="none" stroke="#8CC168" stroke-opacity="0.2" stroke-width="11" stroke-linecap="round" stroke-linejoin="round" filter="url(#gl)"/>
<polyline points="64.8,844.6 140.1,844.6 215.4,844.6 290.8,844.6 366.0,841.5 441.3,829.0 516.6,829.0 592.0,841.5" fill="none" stroke="#8CC168" stroke-width="2.7" stroke-linecap="square" stroke-linejoin="round"/>
<polyline points="64.8,829.0 140.1,822.8 215.4,835.3 290.8,835.3 366.0,835.3 441.3,829.0 516.6,835.3 592.0,832.2" fill="none" stroke="#327DC2" stroke-opacity="0.2" stroke-width="11" stroke-linecap="round" stroke-linejoin="round" filter="url(#gl)"/>
<polyline points="64.8,829.0 140.1,822.8 215.4,835.3 290.8,835.3 366.0,835.3 441.3,829.0 516.6,835.3 592.0,832.2" fill="none" stroke="#327DC2" stroke-width="2.7" stroke-linecap="square" stroke-linejoin="round"/>
<polyline points="64.8,751.4 140.1,751.4 215.4,751.4 290.8,751.4 366.0,751.4 441.3,735.9 516.6,751.4 592.0,751.4" fill="none" stroke="#D26012" stroke-opacity="0.2" stroke-width="11" stroke-linecap="round" stroke-linejoin="round" filter="url(#gl)"/>
<polyline points="64.8,751.4 140.1,751.4 215.4,751.4 290.8,751.4 366.0,751.4 441.3,735.9 516.6,751.4 592.0,751.4" fill="none" stroke="#D26012" stroke-width="2.7" stroke-linecap="square" stroke-linejoin="round"/>
</svg></body></html>
